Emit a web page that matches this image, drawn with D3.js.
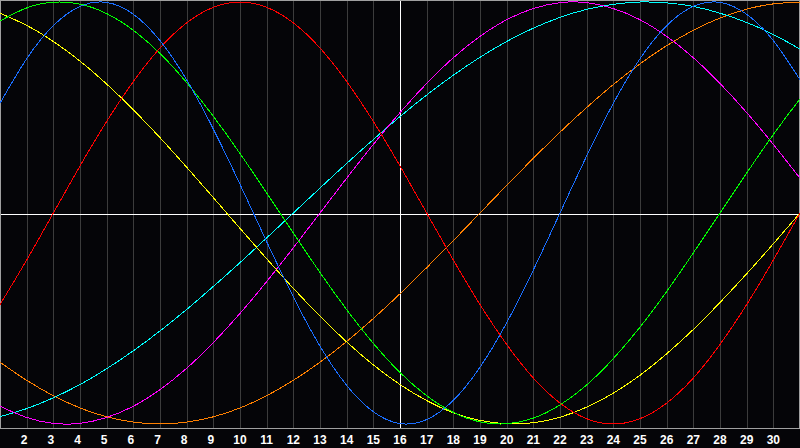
<!DOCTYPE html>
<html>
<head>
<meta charset="utf-8">
<script src="https://cdn.jsdelivr.net/npm/d3@7"></script>
<style>
  html, body { margin: 0; padding: 0; background: #050508; }
  svg { display: block; }
</style>
</head>
<body>
<svg id="chart" width="800" height="448"></svg>
<script>
// days of the month shown (x = day)
const DAYS = [1, 2, 3, 4, 5, 6, 7, 8, 9, 10, 11, 12, 13, 14, 15, 16, 17, 18, 19, 20,
  21, 22, 23, 24, 25, 26, 27, 28, 29, 30, 31];
const TICK_LABELS = [2, 3, 4, 5, 6, 7, 8, 9, 10, 11, 12, 13, 14, 15, 16, 17, 18, 19, 20,
  21, 22, 23, 24, 25, 26, 27, 28, 29, 30];
const TODAY = 16;

// cycle values per day, -1..1
const physical = [0.520, 0.731, 0.888, 0.979, 0.998, 0.942, 0.817, 0.631, 0.398, 0.136,
  -0.136, -0.398, -0.631, -0.817, -0.942, -0.998, -0.979, -0.888, -0.731, -0.520,
  -0.270, 0, 0.270, 0.520, 0.731, 0.888, 0.979, 0.998, 0.942, 0.817, 0.631];
const emotional = [-0.434, -0.223, 0, 0.223, 0.434, 0.623, 0.782, 0.901, 0.975, 1,
  0.975, 0.901, 0.782, 0.623, 0.434, 0.223, 0, -0.223, -0.434, -0.623,
  -0.782, -0.901, -0.975, -1, -0.975, -0.901, -0.782, -0.623, -0.434, -0.223, 0];
const intellectual = [0.910, 0.972, 0.999, 0.990, 0.945, 0.866, 0.756, 0.618, 0.458, 0.282,
  0.095, -0.095, -0.282, -0.458, -0.618, -0.756, -0.866, -0.945, -0.990, -0.999,
  -0.972, -0.910, -0.815, -0.690, -0.541, -0.372, -0.189, 0, 0.189, 0.372, 0.541];
const intuitive = [-0.916, -0.969, -0.997, -0.997, -0.969, -0.916, -0.837, -0.736, -0.614, -0.476,
  -0.325, -0.165, 0, 0.165, 0.325, 0.476, 0.614, 0.736, 0.837, 0.916,
  0.969, 0.997, 0.997, 0.969, 0.916, 0.837, 0.736, 0.614, 0.476, 0.325, 0.165];
const aesthetic = [0.947, 0.889, 0.813, 0.720, 0.611, 0.489, 0.357, 0.217, 0.073, -0.073,
  -0.217, -0.357, -0.489, -0.611, -0.720, -0.813, -0.889, -0.947, -0.983, -0.999,
  -0.994, -0.968, -0.920, -0.854, -0.769, -0.667, -0.552, -0.424, -0.288, -0.146, 0];
const awareness = [-0.707, -0.793, -0.866, -0.924, -0.966, -0.991, -1, -0.991, -0.966, -0.924,
  -0.866, -0.793, -0.707, -0.609, -0.5, -0.383, -0.259, -0.131, 0, 0.131,
  0.259, 0.383, 0.5, 0.609, 0.707, 0.793, 0.866, 0.924, 0.966, 0.991, 1];
const spiritual = [-0.965, -0.927, -0.876, -0.813, -0.738, -0.653, -0.559, -0.457, -0.348, -0.235,
  -0.118, 0, 0.118, 0.235, 0.348, 0.457, 0.559, 0.653, 0.738, 0.813,
  0.876, 0.927, 0.965, 0.989, 1.000, 0.996, 0.979, 0.947, 0.903, 0.846, 0.777];

const SERIES = [
  { name: 'awareness', values: awareness, color: '#ff8000' },
  { name: 'spiritual', values: spiritual, color: '#00ffff' },
  { name: 'intuitive', values: intuitive, color: '#ff00ff' },
  { name: 'aesthetic', values: aesthetic, color: '#ffff00' },
  { name: 'intellectual', values: intellectual, color: '#00ff00' },
  { name: 'emotional', values: emotional, color: '#ff0000' },
  { name: 'physical', values: physical, color: '#1a6eff' },
];

const W = 800, PLOT_H = 428;
const svg = d3.select('#chart');

const x = d3.scaleLinear().domain([1, 31]).range([0, W]);
const y = d3.scaleLinear().domain([-1, 1]).range([424, 2]);

svg.append('rect')
  .attr('x', 0).attr('y', 0)
  .attr('width', W).attr('height', 448)
  .attr('fill', '#050508');

// day grid
svg.append('g')
  .selectAll('line')
  .data(TICK_LABELS.filter(d => d !== TODAY))
  .join('line')
  .attr('x1', d => Math.round(x(d)) + 0.5).attr('x2', d => Math.round(x(d)) + 0.5)
  .attr('y1', 0).attr('y2', PLOT_H)
  .attr('stroke', '#3c3c3c')
  .attr('stroke-width', 1)
  .attr('shape-rendering', 'crispEdges');

// zero line and today line
svg.append('line')
  .attr('x1', 0).attr('x2', W)
  .attr('y1', Math.round(y(0)) + 1.5).attr('y2', Math.round(y(0)) + 1.5)
  .attr('stroke', '#ffffff')
  .attr('shape-rendering', 'crispEdges');
svg.append('line')
  .attr('x1', Math.round(x(TODAY)) + 0.5).attr('x2', Math.round(x(TODAY)) + 0.5)
  .attr('y1', 0).attr('y2', PLOT_H)
  .attr('stroke', '#ffffff')
  .attr('shape-rendering', 'crispEdges');

// border
svg.append('rect')
  .attr('x', 0.5).attr('y', 0.5)
  .attr('width', W - 1).attr('height', PLOT_H)
  .attr('fill', 'none')
  .attr('stroke', '#a0a0a0')
  .attr('shape-rendering', 'crispEdges');

const line = d3.line()
  .x((d, i) => x(DAYS[i]))
  .y(d => y(d))
  .curve(d3.curveNatural);

svg.append('g')
  .selectAll('path')
  .data(SERIES)
  .join('path')
  .attr('d', s => line(s.values))
  .attr('fill', 'none')
  .attr('stroke', s => s.color)
  .attr('stroke-width', 1)
  .attr('shape-rendering', 'crispEdges');

// day labels
svg.append('g')
  .selectAll('text')
  .data(TICK_LABELS)
  .join('text')
  .attr('x', d => x(d) - (d < 10 ? 2.5 : 0))
  .attr('y', 444)
  .attr('text-anchor', 'middle')
  .attr('fill', '#ffffff')
  .attr('font-family', 'Liberation Sans, Arial, sans-serif')
  .attr('font-weight', 'bold')
  .attr('font-size', '12px')
  .text(d => d);
</script>
</body>
</html>
